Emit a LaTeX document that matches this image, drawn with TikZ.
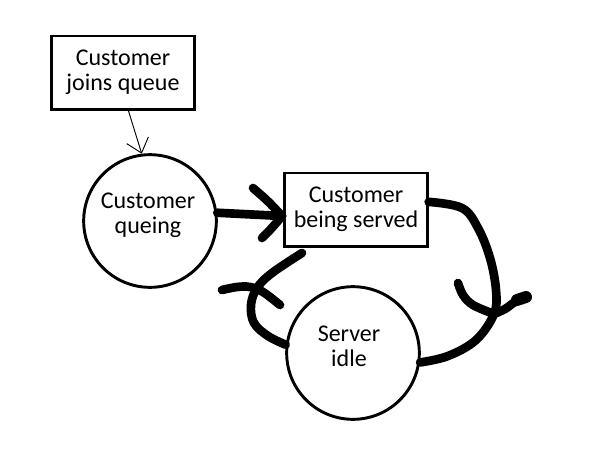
\documentclass[tikz,border=0pt]{standalone}
\usepackage{fontspec}
\setmainfont{Carlito}
\usetikzlibrary{arrows.meta}
\begin{document}
\begin{tikzpicture}[x=0.75pt,y=-0.75pt,
  boxnode/.style={draw,line width=2pt,minimum width=107pt,minimum height=55pt,align=center,inner sep=0pt,font=\fontsize{18}{18.5}\selectfont},
  circnode/.style={draw,circle,line width=2.2pt,minimum size=99.5pt,inner sep=0pt},
  txt/.style={align=center,inner sep=0pt,font=\fontsize{18}{18.5}\selectfont},
  brush/.style={line width=6.5pt,line cap=round,line join=round},
  thinarrow/.style={line width=0.7pt,-{Straight Barb[length=10pt,width=17pt]}}
]
\useasboundingbox (0,0) rectangle (600,450);
% nodes
\node[boxnode] (b1) at (123,72.5) {Customer\\joins queue};
\node[circnode] (c1) at (150,221) {};
\node[txt] (c1t) at (148,215) {Customer\\queing};
\node[boxnode] (b2) at (356,209.5) {Customer\\being served};
\node[circnode] (c2) at (353,353) {};
\node[txt] (c2t) at (349,346) {Server\\idle};
% thin arrow
\draw[thinarrow] (b1.-82) -- (c1.97);
% arrow queue -> served
\coordinate (t1) at (282,216);
\coordinate (w1a) at (253,188);
\coordinate (w1b) at (262,238);
\draw[brush] (c1.7) -- (t1);
\draw[brush] (w1a) .. controls (268,201) .. (t1);
\draw[brush] (w1b) .. controls (272,228) .. (t1);
% right curve served -> idle
\coordinate (t2) at (494,314);
\draw[brush] plot[smooth,tension=0.6] coordinates {(b2.6) (462,208) (478,228) (490,258) (496,290) (t2) (476,340) (448,356) (c2.-8)};
\coordinate (w2a) at (458,283);
\coordinate (w2b) at (526,297);
\draw[brush] plot[smooth,tension=0.6] coordinates {(w2a) (463,295) (473,305) (t2)};
\draw[brush] plot[smooth,tension=0.6] coordinates {(t2) (505,309) (515,302) (w2b)};
\draw[line width=9pt,line cap=round] (517,300) -- (w2b);
% left curve idle -> served
\coordinate (ls) at (302,253);
\draw[brush] plot[smooth,tension=0.6] coordinates {(ls) (272,273) (257,288) (251,305) (254,323) (268,336) (c2.173)};
\coordinate (w3a) at (222,290);
\coordinate (w3b) at (280,305);
\draw[brush] plot[smooth,tension=0.6] coordinates {(w3a) (237,287) (250,287) (263,292) (w3b)};
\end{tikzpicture}
\end{document}
